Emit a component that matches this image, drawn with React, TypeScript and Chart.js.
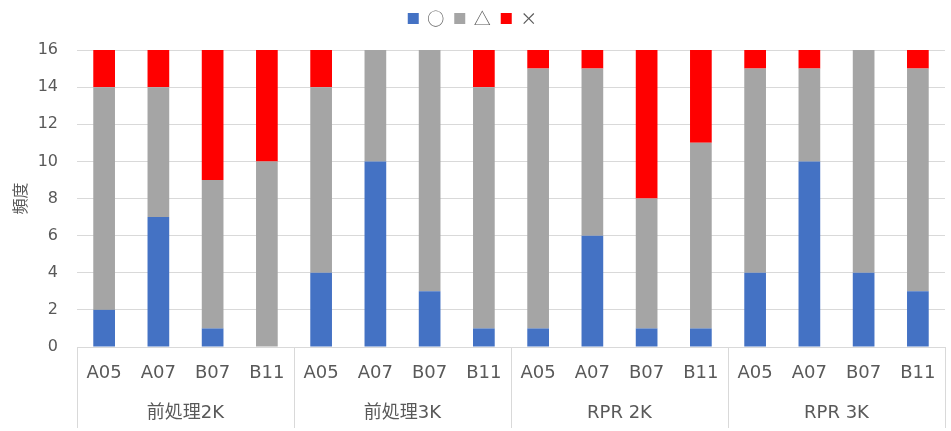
import React, { useEffect, useRef } from "react";
import { Chart, registerables } from "chart.js";

Chart.register(...registerables);

const groups = ["前処理2K", "前処理3K", "RPR 2K", "RPR 3K"];
const subLabels = ["A05", "A07", "B07", "B11"];
const circleValues = [2, 7, 1, 0, 4, 10, 3, 1, 1, 6, 1, 1, 4, 10, 4, 3];
const triangleValues = [12, 7, 8, 10, 10, 6, 13, 13, 14, 9, 7, 10, 11, 5, 12, 12];
const crossValues = [2, 2, 7, 6, 2, 0, 0, 2, 1, 1, 8, 5, 1, 1, 0, 1];
const yTicks = [0, 2, 4, 6, 8, 10, 12, 14, 16];

const FONT = "'DejaVu Sans', 'Noto Sans CJK JP', sans-serif";
const CJK = "'Noto Sans CJK JP', sans-serif";
const TEXT = "#595959";
const LINE = "#d9d9d9";

const groupPlugin = {
  id: "groupAxis",
  afterInit(chart: any) {
    const legend = chart.legend;
    if (legend && !legend.__patched) {
      const orig = legend.fit;
      legend.fit = function () {
        orig.call(this);
        this.height = 50;
      };
      legend.__patched = true;
    }
  },
  afterDraw(chart: any) {
    const x = chart.scales.x;
    const ctx = chart.ctx;
    const area = chart.chartArea;
    const per = subLabels.length;
    ctx.save();
    ctx.strokeStyle = LINE;
    ctx.lineWidth = 1;
    for (let g = 0; g <= groups.length; g++) {
      const px = Math.round(x.getPixelForValue(g * per - 0.5)) + 0.5;
      ctx.beginPath();
      ctx.moveTo(px, area.bottom);
      ctx.lineTo(px, area.bottom + 81);
      ctx.stroke();
    }
    ctx.fillStyle = TEXT;
    ctx.font = `18px ${FONT}`;
    ctx.textAlign = "center";
    ctx.textBaseline = "middle";
    groups.forEach((g, i) => {
      const a = x.getPixelForValue(i * per - 0.5);
      const b = x.getPixelForValue((i + 1) * per - 0.5);
      ctx.fillText(g, (a + b) / 2, area.bottom + 66);
    });
    ctx.restore();
  },
};

export default function App() {
  const ref = useRef<HTMLCanvasElement>(null);
  useEffect(() => {
    if (!ref.current) return;
    const labels = groups.flatMap(() => subLabels);
    const chart = new Chart(ref.current, {
      type: "bar",
      data: {
        labels,
        datasets: [
          { label: "○", data: circleValues, backgroundColor: "#4472C4" },
          { label: "△", data: triangleValues, backgroundColor: "#A5A5A5" },
          { label: "×", data: crossValues, backgroundColor: "#FF0000" },
        ],
      },
      options: {
        animation: false,
        responsive: false,
        maintainAspectRatio: false,
        datasets: { bar: { categoryPercentage: 1, barPercentage: 0.4 } } as any,
        layout: { padding: { top: 0, right: 6, left: 0, bottom: 0 } },
        plugins: {
          legend: {
            position: "top",
            labels: {
              boxWidth: 11,
              boxHeight: 11,
              color: TEXT,
              font: { family: CJK, size: 17 },
              padding: 10,
            },
          },
          tooltip: { enabled: false },
        },
        scales: {
          x: {
            stacked: true,
            grid: { display: false },
            border: { display: true, color: LINE },
            ticks: { color: TEXT, font: { family: FONT, size: 18 }, padding: 8, maxRotation: 0, autoSkip: false },
            afterFit: (s: any) => { s.height = 84; },
          },
          y: {
            stacked: true,
            min: 0,
            max: 16,
            afterBuildTicks: (s: any) => { s.ticks = yTicks.map((v) => ({ value: v })); },
            grid: { color: LINE, drawTicks: false },
            border: { display: false },
            ticks: { color: TEXT, font: { family: FONT, size: 16 }, padding: 19 },
            title: { display: true, text: "頻度", color: TEXT, font: { family: CJK, size: 16 }, padding: { top: 10, bottom: 0 } },
            afterFit: (s: any) => { s.width = 77; },
          },
        },
      },
      plugins: [groupPlugin],
    });
    return () => chart.destroy();
  }, []);
  return (
    <div style={{ position: "fixed", left: 0, top: 0, width: 951, height: 431, background: "#fff" }}>
      <canvas ref={ref} width={951} height={431} style={{ width: 951, height: 431 }} />
    </div>
  );
}
